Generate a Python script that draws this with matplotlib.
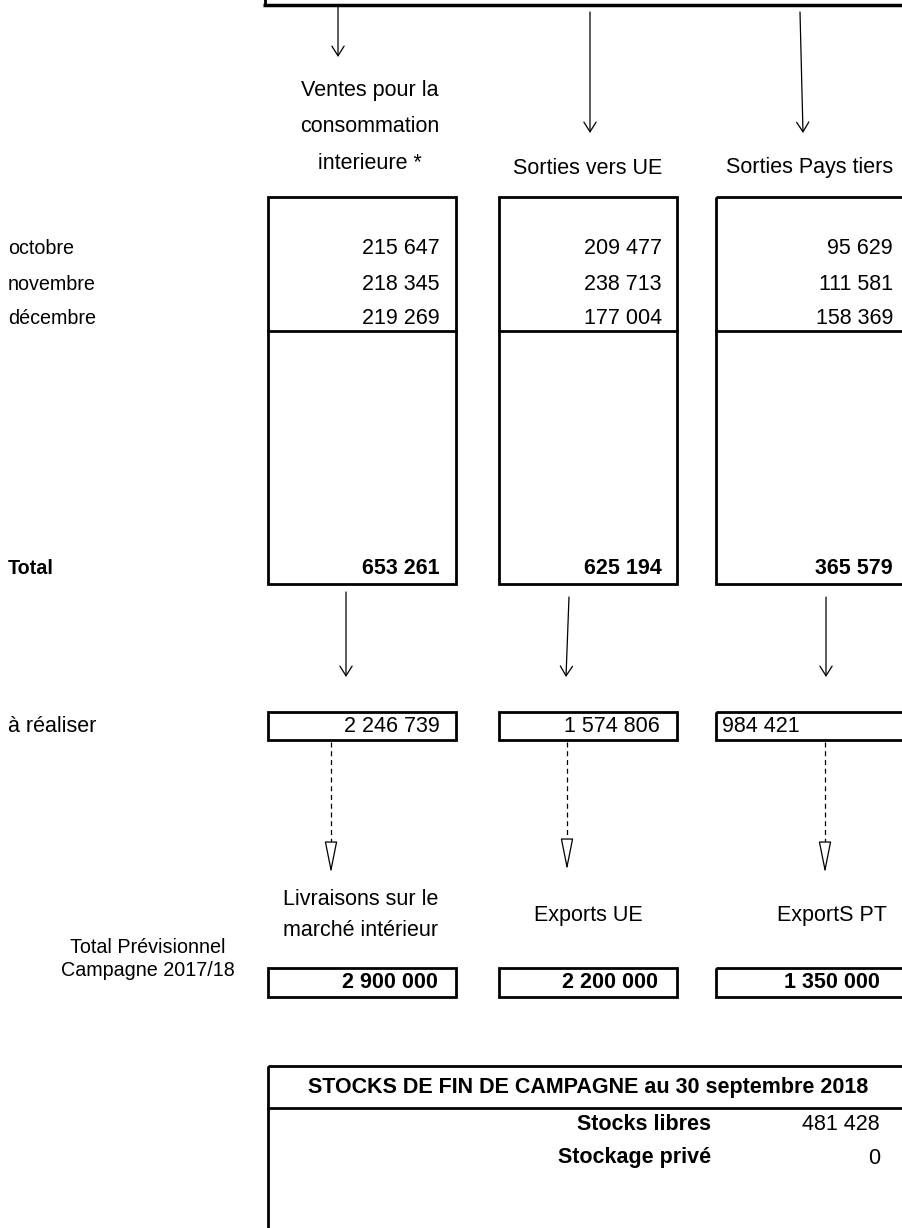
import matplotlib.pyplot as plt
from matplotlib.patches import Rectangle

plt.rcParams['font.family'] = ['Liberation Sans', 'DejaVu Sans']

# data
months = ["octobre", "novembre", "décembre"]
col_titles = ["Ventes pour la\nconsommation\ninterieure *", "Sorties vers UE", "Sorties Pays tiers"]
ventes_int = [215647, 218345, 219269]
sorties_ue = [209477, 238713, 177004]
sorties_pt = [95629, 111581, 158369]
totals = [653261, 625194, 365579]
a_realiser = [2246739, 1574806, 984421]
forecast_titles = ["Livraisons sur le\nmarché intérieur", "Exports UE", "ExportS PT"]
forecast = [2900000, 2200000, 1350000]
stock_labels = ["Stocks libres", "Stockage privé"]
stock_values = [481428, 0]


def fmt(v):
    return f"{v:,}".replace(",", " ")


W, H = 903, 1228
fig = plt.figure(figsize=(W / 100, H / 100), dpi=100)
ax = fig.add_axes([0, 0, 1, 1])
ax.set_xlim(0, W)
ax.set_ylim(H, 0)
ax.axis("off")

FS = 15.5
FS_LEFT = 14.2
LW = 2.0

# column geometry (pixels)
cols = [(268, 456), (499, 677), (716, 960)]
val_x = [440, 662, 893]


def box(x0, x1, y0, y1):
    ax.add_patch(Rectangle((x0, y0), x1 - x0, y1 - y0, fill=False, ec="black", lw=LW))


def arrow(x0, y0, x1, y1):
    ax.annotate("", xy=(x1, y1), xytext=(x0, y0),
                arrowprops=dict(arrowstyle="->,head_length=0.35,head_width=0.22",
                                mutation_scale=20, lw=0.9, color="black",
                                shrinkA=0, shrinkB=0))


def dashed_arrow(x, y0, y1):
    ax.plot([x, x], [y0, y1 - 14], color="black", lw=0.9, ls=(0, (4, 3)))
    ax.annotate("", xy=(x, y1), xytext=(x, y1 - 18),
                arrowprops=dict(arrowstyle="-|>,head_length=1.0,head_width=0.2",
                                mutation_scale=20, lw=0.9, ec="black", fc="white",
                                shrinkA=0, shrinkB=0))


# top header box (mostly cut off)
ax.plot([263, W], [5, 5], color="black", lw=2.5, solid_capstyle="butt")
ax.plot([265, 265], [-5, 5], color="black", lw=LW)

# top arrows
arrow(338, 7, 338, 57)
arrow(590, 12, 590, 133)
arrow(800, 12, 803, 133)

# column titles
ax.text(370, 127, col_titles[0], ha="center", va="center", fontsize=FS, linespacing=1.95)
ax.text(588, 168, col_titles[1], ha="center", va="center", fontsize=FS)
ax.text(810, 168, col_titles[2], ha="center", va="center", fontsize=FS)

# monthly table
row_y = [248, 284, 318]
for i, m in enumerate(months):
    ax.text(8, row_y[i], m, ha="left", va="center", fontsize=FS_LEFT)
for c, series in enumerate([ventes_int, sorties_ue, sorties_pt]):
    x0, x1 = cols[c]
    box(x0, x1, 197, 584)
    ax.plot([x0, x1], [331, 331], color="black", lw=LW)
    for i, v in enumerate(series):
        ax.text(val_x[c], row_y[i], fmt(v), ha="right", va="center", fontsize=FS)

ax.text(8, 569, "Total", ha="left", va="center", fontsize=FS_LEFT, fontweight="bold")
for c, v in enumerate(totals):
    ax.text(val_x[c], 569, fmt(v), ha="right", va="center", fontsize=FS, fontweight="bold")

# arrows from totals
arrow(346, 592, 346, 677)
arrow(569, 597, 566, 677)
arrow(826, 597, 826, 677)

# remaining row
ax.text(8, 726, "à réaliser", ha="left", va="center", fontsize=FS)
rem_x = [440, 660, 722]
rem_ha = ["right", "right", "left"]
for c, v in enumerate(a_realiser):
    x0, x1 = cols[c]
    box(x0, x1, 712, 740)
    ax.text(rem_x[c], 726, fmt(v), ha=rem_ha[c], va="center", fontsize=FS)

# dashed arrows
dashed_arrow(331, 742, 873)
dashed_arrow(567, 742, 870)
dashed_arrow(825, 742, 873)

# forecast labels (first one clipped at its cell top)
ax.text(361, 915, forecast_titles[0], ha="center", va="center", fontsize=FS, linespacing=1.6)
ax.add_patch(Rectangle((275, 876), 180, 12, fc="white", ec="none", zorder=3))
ax.text(588, 915, forecast_titles[1], ha="center", va="center", fontsize=FS)
ax.text(832, 915, forecast_titles[2], ha="center", va="center", fontsize=FS)

ax.text(148, 959, "Total Prévisionnel\nCampagne 2017/18", ha="center", va="center",
        fontsize=FS_LEFT, linespacing=1.25)

fc_x = [438, 658, 880]
for c, v in enumerate(forecast):
    x0, x1 = cols[c]
    box(x0, x1, 968, 997)
    ax.text(fc_x[c], 983, fmt(v), ha="right", va="center", fontsize=FS, fontweight="bold")

# end-of-campaign stocks
box(268, 960, 1066, 1260)
ax.plot([268, 960], [1108, 1108], color="black", lw=LW)
ax.text(588, 1088, "STOCKS DE FIN DE CAMPAGNE au 30 septembre 2018", ha="center",
        va="center", fontsize=FS, fontweight="bold")
stock_y = [1124, 1158]
for i, (lab, v) in enumerate(zip(stock_labels, stock_values)):
    ax.text(711, stock_y[i], lab, ha="right", va="center", fontsize=FS, fontweight="bold")
    ax.text(880, stock_y[i], fmt(v), ha="right", va="center", fontsize=FS)

fig.savefig("out.png", dpi=100)
